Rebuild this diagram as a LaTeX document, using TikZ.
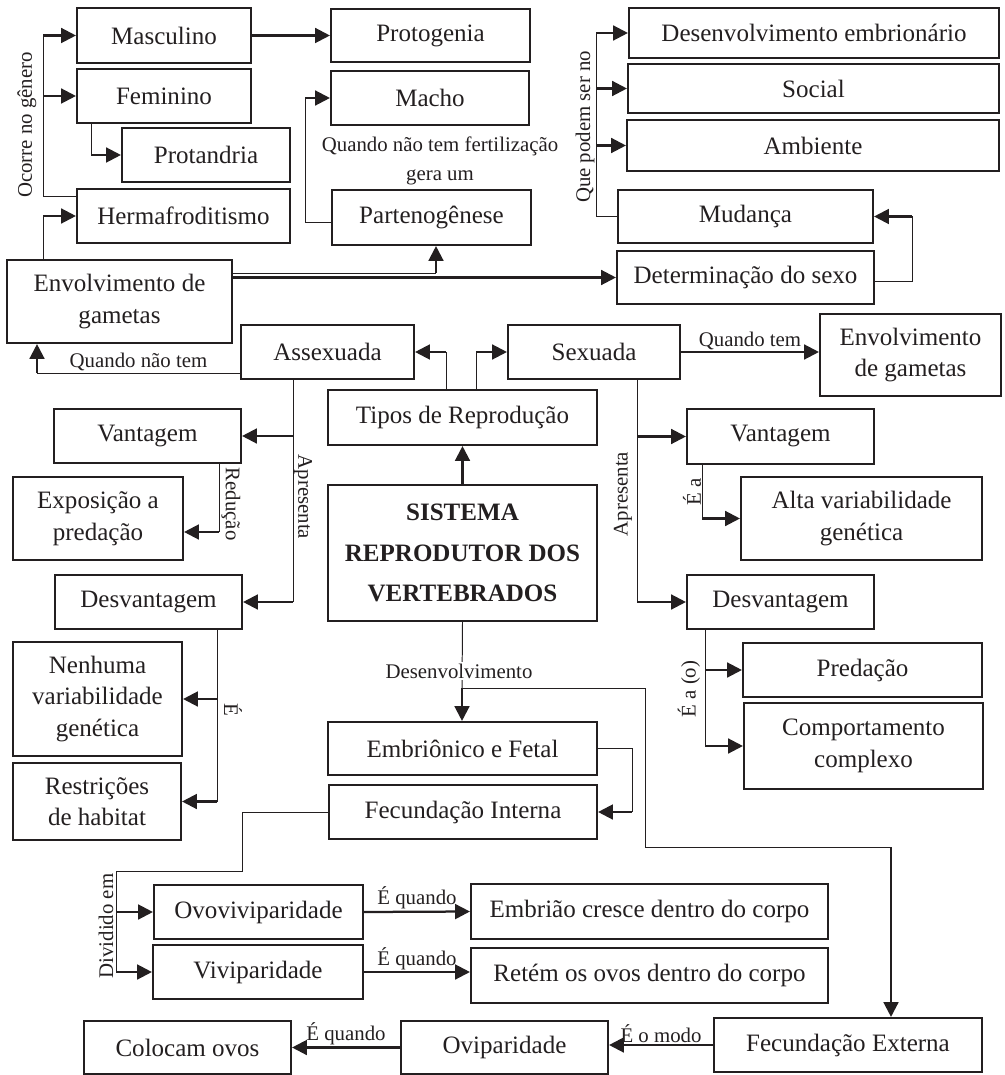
\documentclass[tikz,border=0pt]{standalone}
\usepackage{fontspec}
\setmainfont{Liberation Serif}
\usepackage{tikz}
\usetikzlibrary{arrows.meta,positioning,calc}
\usepackage{xcolor}
\definecolor{ink}{HTML}{231F20}

% box from corner (x1,y1) to corner (x2,y2), in pixel units
\newcommand{\mapbox}[7][]{%
  \node[box,#1,minimum width={(#5-#3)*0.025cm},minimum height={(#6-#4)*0.025cm}]
    (#2) at ({(#3+#5)/2},{(#4+#6)/2}) {#7};}

\begin{document}
\begin{tikzpicture}[x=0.025cm, y=-0.025cm,
    font=\fontsize{17.8}{22.5}\selectfont, color=ink,
    box/.style={draw=ink, line width=1.5pt, align=center, inner sep=2pt},
    link/.style={draw=ink, line width=0.7pt},
    arr/.style={draw=ink, line width=1.6pt, -{Triangle[length=10.5pt,width=10.5pt]}},
    lbl/.style={font=\fontsize{14.8}{20.5}\selectfont, inner sep=1pt}]

    \useasboundingbox (0,0) rectangle (1004,1075);

    % 1. Boxes, top
    \mapbox{masc}{77}{8}{251}{63}{Masculino}
    \mapbox{fem}{77}{69}{251}{123}{Feminino}
    \mapbox{protand}{122}{128}{290}{182}{Protandria}
    \mapbox{herma}{77}{189}{290}{243}{Hermafroditismo}
    \mapbox{envL}{7}{260}{232}{343}{Envolvimento de\\gametas}
    \mapbox{protog}{331}{9}{530}{62}{Protogenia}
    \mapbox{macho}{331}{71}{529}{125}{Macho}
    \mapbox{parteno}{332}{190}{531}{245}{Partenogênese}
    \mapbox{desemb}{629}{8}{999}{58}{Desenvolvimento embrionário}
    \mapbox{social}{628}{64}{999}{113}{Social}
    \mapbox{ambiente}{627}{120}{999}{171}{Ambiente}
    \mapbox{mudanca}{618}{190}{873}{243}{Mudança}
    \mapbox{determ}{617}{251}{874}{304}{Determinação do sexo}

    % 2. Boxes, middle
    \mapbox{assex}{241}{325}{414}{379}{Assexuada}
    \mapbox{sexu}{508}{325}{680}{379}{Sexuada}
    \mapbox{envR}{820}{314}{1001}{396}{Envolvimento\\de gametas}
    \mapbox{tipos}{328}{390}{597}{445}{Tipos de Reprodução}
    \mapbox[font=\bfseries\fontsize{17.8}{29}\selectfont]{sistema}{328}{485}{597}{621}{SISTEMA\\REPRODUTOR DOS\\VERTEBRADOS}
    \mapbox{vantL}{54}{409}{241}{463}{Vantagem}
    \mapbox{expos}{13}{477}{183}{560}{Exposição a\\predação}
    \mapbox{desvL}{55}{575}{242}{629}{Desvantagem}
    \mapbox{nenhuma}{13}{642}{182}{756}{Nenhuma\\variabilidade\\genética}
    \mapbox{restr}{13}{763}{181}{840}{Restrições\\de habitat}
    \mapbox{vantR}{687}{409}{874}{464}{Vantagem}
    \mapbox{alta}{741}{477}{982}{560}{Alta variabilidade\\genética}
    \mapbox{desvR}{687}{575}{874}{629}{Desvantagem}
    \mapbox{predacao}{743}{643}{982}{697}{Predação}
    \mapbox{comport}{744}{703}{983}{789}{Comportamento\\complexo}

    % 3. Boxes, bottom
    \mapbox{embrfet}{328}{722}{597}{775}{Embriônico e Fetal}
    \mapbox{fecint}{329}{785}{597}{839}{Fecundação Interna}
    \mapbox{ovovivi}{154}{885}{363}{939}{Ovoviviparidade}
    \mapbox{vivi}{153}{945}{363}{999}{Viviparidade}
    \mapbox{embcresce}{471}{884}{828}{939}{Embrião cresce dentro do corpo}
    \mapbox{retem}{471}{948}{828}{1003}{Retém os ovos dentro do corpo}
    \mapbox{colocam}{84}{1021}{291}{1074}{Colocam ovos}
    \mapbox{ovip}{401}{1021}{608}{1074}{Oviparidade}
    \mapbox{fecext}{714}{1018}{982}{1072}{Fecundação Externa}

    % 4. Connectors, top left
    \coordinate (ocX) at (43,0);
    \draw[link] ($(herma.north west)+(0,9)$) -| (ocX |- masc.west);
    \draw[arr] (ocX |- masc.west) -- (masc.west);
    \draw[arr] (ocX |- fem.west) -- (fem.west);
    \node[lbl, rotate=90] (lbOcorre) at (27,125) {Ocorre no gênero};
    \draw[link] (envL.north -| ocX) -- (ocX |- herma.west);
    \draw[arr] (ocX |- herma.west) -- (herma.west);
    \coordinate (fpX) at (91,0);
    \draw[link] (fem.south -| fpX) -- (fpX |- protand.west);
    \draw[arr] (fpX |- protand.west) -- (protand.west);
    \draw[arr] (masc.east) -- (protog.west);

    % 5. Connectors, top middle
    \coordinate (pmX) at (305,0);
    \draw[link] ($(parteno.west)+(0,5)$) -| (pmX |- macho.west);
    \draw[arr] (pmX |- macho.west) -- (macho.west);
    \node[lbl, align=center] (lbFert) at (440,161) {Quando não tem fertilização\\gera um};
    \coordinate (epC) at (436,273);
    \draw[link] (envL.east |- epC) -- (epC);
    \draw[arr] (epC) -- (epC |- parteno.south);
    \draw[arr] (envL.east |- determ.west) -- (determ.west);

    % 6. Connectors, top right
    \coordinate (dmX) at (912,0);
    \draw[link] ($(determ.east)+(0,4)$) -| (dmX |- mudanca.east);
    \draw[arr] (dmX |- mudanca.east) -- (mudanca.east);
    \coordinate (qpX) at (596,0);
    \draw[link] (mudanca.west) -| (qpX |- desemb.west);
    \draw[arr] (qpX |- desemb.west) -- (desemb.west);
    \draw[arr] (qpX |- social.west) -- (social.west);
    \draw[arr] (qpX |- ambiente.west) -- (ambiente.west);
    \node[lbl, rotate=90] (lbQuePodem) at (585,127) {Que podem ser no};

    % 7. Tipos de reproducao
    \draw[arr] (sistema.north) -- (tipos.south);
    \coordinate (taX) at (446,0);
    \coordinate (tsX) at (476,0);
    \draw[link] (tipos.north -| taX) -- (taX |- assex.east);
    \draw[arr] (taX |- assex.east) -- (assex.east);
    \draw[link] (tipos.north -| tsX) -- (tsX |- sexu.west);
    \draw[arr] (tsX |- sexu.west) -- (sexu.west);

    % 8. Assexuada side
    \coordinate (qnC) at (37,373);
    \draw[link] (assex.west |- qnC) -- node[lbl, above] (lbQuandoNao) {Quando não tem} (qnC);
    \draw[arr] (qnC) -- (qnC |- envL.south);
    \coordinate (apL) at (293,0);
    \draw[link] (assex.south -| apL) -- (apL |- desvL.east);
    \draw[arr] (apL |- vantL.east) -- (vantL.east);
    \draw[arr] (apL |- desvL.east) -- (desvL.east);
    \node[lbl, rotate=-90] (lbApresL) at (303,497) {Apresenta};
    \coordinate (redC) at (219,532);
    \draw[link] (vantL.south -| redC) -- (redC);
    \draw[arr] (redC) -- (redC -| expos.east);
    \node[lbl, rotate=-90] (lbReducao) at (231,504) {Redução};
    \coordinate (eL) at (217,0);
    \draw[link] (desvL.south -| eL) -- (eL |- restr.east);
    \draw[arr] (eL |- nenhuma.east) -- (nenhuma.east);
    \draw[arr] (eL |- restr.east) -- (restr.east);
    \node[lbl, rotate=-90] (lbE) at (233,710) {É};

    % 9. Sexuada side
    \draw[arr] (sexu.east) -- node[lbl, above] (lbQuandoTem) {Quando tem} (sexu.east -| envR.west);
    \coordinate (apR) at (637,0);
    \draw[link] (sexu.south -| apR) -- (apR |- desvR.west);
    \draw[arr] (apR |- vantR.west) -- (vantR.west);
    \draw[arr] (apR |- desvR.west) -- (desvR.west);
    \node[lbl, rotate=90] (lbApresR) at (623,494) {Apresenta};
    \coordinate (eaX) at (702,0);
    \draw[link] (vantR.south -| eaX) -- (eaX |- alta.west);
    \draw[arr] (eaX |- alta.west) -- (alta.west);
    \node[lbl, rotate=90] (lbEa) at (692,492) {É a};
    \coordinate (eoX) at (705,0);
    \draw[link] (desvR.south -| eoX) -- (eoX |- comport.west);
    \draw[arr] (eoX |- predacao.west) -- (predacao.west);
    \draw[arr] (eoX |- comport.west) -- (comport.west);
    \node[lbl, rotate=90] (lbEao) at (689,689) {É a (o)};

    % 10. Desenvolvimento
    \coordinate (dvA) at (462,688);
    \coordinate (dvB) at (645,847);
    \coordinate (dvC) at (891,847);
    \draw[link] (sistema.south) -- (dvA);
    \draw[arr] (dvA) -- (dvA |- embrfet.north);
    \node[lbl, fill=white] (lbDesenv) at (459,671) {Desenvolvimento};
    \draw[link] (dvA) -| (dvB) -- (dvC);
    \draw[arr] (dvC) -- (dvC |- fecext.north);
    \coordinate (efX) at (632,0);
    \draw[link] (embrfet.east) -| (efX |- fecint.east);
    \draw[arr] (efX |- fecint.east) -- (fecint.east);

    % 11. Fecundacao
    \coordinate (fiA) at (242,871);
    \coordinate (fiB) at (116,871);
    \draw[link] (fecint.west) -| (fiA) -- (fiB) -- (fiB |- vivi.west);
    \draw[arr] (fiB |- ovovivi.west) -- (ovovivi.west);
    \draw[arr] (fiB |- vivi.west) -- (vivi.west);
    \node[lbl, rotate=90] (lbDividido) at (106,926) {Dividido em};
    \draw[arr] (ovovivi.east) -- node[lbl, above] (lbQuandoOvo) {É quando} (embcresce.west);
    \draw[arr] (vivi.east) -- node[lbl, above] (lbQuandoVivi) {É quando} (vivi.east -| retem.west);
    \draw[arr] (fecext.west) -- node[lbl, above] (lbModo) {É o modo} (fecext.west -| ovip.east);
    \draw[arr] (ovip.west) -- node[lbl, above] (lbQuandoOvip) {É quando} (colocam.east);

\end{tikzpicture}
\end{document}
